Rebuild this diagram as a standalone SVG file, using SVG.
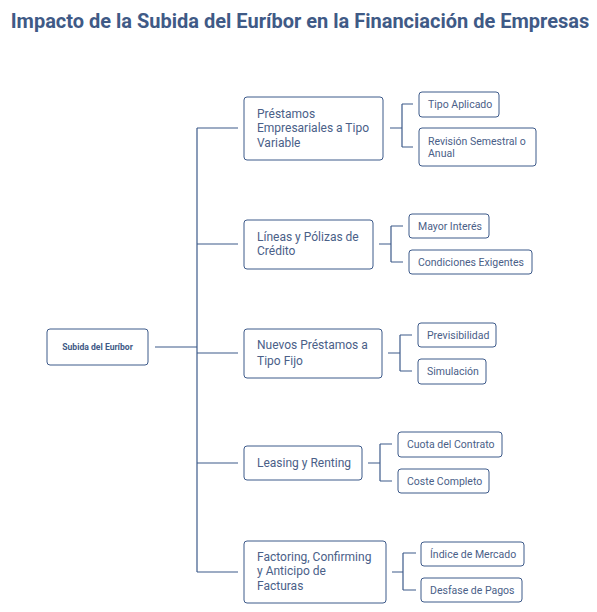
<svg xmlns="http://www.w3.org/2000/svg" width="597" height="612" viewBox="0 0 597 612">
<style>
.bg{fill:#ffffff}
.title{font-family:Roboto,"Liberation Sans",sans-serif;font-size:20px;font-weight:bold;fill:#3f5a86}
.box{fill:#ffffff;stroke:#3d5a8a;stroke-width:1}
.t1{font-family:Roboto,"Liberation Sans",sans-serif;font-size:12px;fill:#4a6088}
.t2{font-family:Roboto,"Liberation Sans",sans-serif;font-size:10.5px;fill:#4a6088}
.t0{font-family:Roboto,"Liberation Sans",sans-serif;font-size:8.6px;font-weight:bold;fill:#3f5a86}
.ln{fill:none;stroke:#3d5a8a;stroke-width:1.2}
</style>
<rect class="bg" width="597" height="612"/>
<text class="title" x="300" y="28" text-anchor="middle">Impacto de la Subida del Euríbor en la Financiación de Empresas</text>
<g id="connectors">
<path class="ln" d="M155,347 H197 M197,128 V572 M197,128 H238 M197,244 H238 M197,353 H238 M197,463 H238 M197,572 H238"/>
<path class="ln" d="M390,128 H402 M402,104 V147 M402,104 H413 M402,147 H413"/>
<path class="ln" d="M379,244 H391 M391,226 V262 M391,226 H403 M391,262 H403"/>
<path class="ln" d="M388,353 H400 M400,335 V371 M400,335 H412 M400,371 H412"/>
<path class="ln" d="M368,463 H380 M380,444 V481 M380,444 H392 M380,481 H392"/>
<path class="ln" d="M392,572 H403 M403,553 V590 M403,553 H416 M403,590 H416"/>
</g>
<g id="root">
<rect class="box" x="47" y="329" width="101" height="36" rx="3"/>
<text class="t0" x="97.5" y="350" text-anchor="middle">Subida del Euríbor</text>
</g>
<g id="n1">
<rect class="box" x="244" y="97" width="139" height="63" rx="3"/>
<text class="t1" x="257" y="118">Préstamos</text>
<text class="t1" x="257" y="132">Empresariales a Tipo</text>
<text class="t1" x="257" y="147">Variable</text>
</g>
<g id="n1a">
<rect class="box" x="419" y="92" width="80" height="25" rx="3"/>
<text class="t2" x="428" y="108">Tipo Aplicado</text>
</g>
<g id="n1b">
<rect class="box" x="419" y="128" width="117" height="38" rx="3"/>
<text class="t2" x="428" y="145">Revisión Semestral o</text>
<text class="t2" x="428" y="157">Anual</text>
</g>
<g id="n2">
<rect class="box" x="244" y="220" width="129" height="49" rx="3"/>
<text class="t1" x="257" y="241">Líneas y Pólizas de</text>
<text class="t1" x="257" y="255">Crédito</text>
</g>
<g id="n2a">
<rect class="box" x="409" y="214" width="80" height="24" rx="3"/>
<text class="t2" x="418" y="230">Mayor Interés</text>
</g>
<g id="n2b">
<rect class="box" x="409" y="250" width="123" height="24" rx="3"/>
<text class="t2" x="418" y="266">Condiciones Exigentes</text>
</g>
<g id="n3">
<rect class="box" x="244" y="329" width="138" height="49" rx="3"/>
<text class="t1" x="257" y="349">Nuevos Préstamos a</text>
<text class="t1" x="257" y="365">Tipo Fijo</text>
</g>
<g id="n3a">
<rect class="box" x="418" y="323" width="78" height="24" rx="3"/>
<text class="t2" x="427" y="339">Previsibilidad</text>
</g>
<g id="n3b">
<rect class="box" x="418" y="359" width="68" height="25" rx="3"/>
<text class="t2" x="427" y="375">Simulación</text>
</g>
<g id="n4">
<rect class="box" x="244" y="446" width="118" height="34" rx="3"/>
<text class="t1" x="257" y="467">Leasing y Renting</text>
</g>
<g id="n4a">
<rect class="box" x="398" y="432" width="104" height="25" rx="3"/>
<text class="t2" x="407" y="448">Cuota del Contrato</text>
</g>
<g id="n4b">
<rect class="box" x="398" y="469" width="91" height="24" rx="3"/>
<text class="t2" x="407" y="485">Coste Completo</text>
</g>
<g id="n5">
<rect class="box" x="244" y="541" width="142" height="62" rx="3"/>
<text class="t1" x="257" y="561">Factoring, Confirming</text>
<text class="t1" x="257" y="575">y Anticipo de</text>
<text class="t1" x="257" y="590">Facturas</text>
</g>
<g id="n5a">
<rect class="box" x="421" y="542" width="103" height="24" rx="3"/>
<text class="t2" x="430" y="558">Índice de Mercado</text>
</g>
<g id="n5b">
<rect class="box" x="421" y="578" width="101" height="24" rx="3"/>
<text class="t2" x="430" y="594">Desfase de Pagos</text>
</g>
</svg>
